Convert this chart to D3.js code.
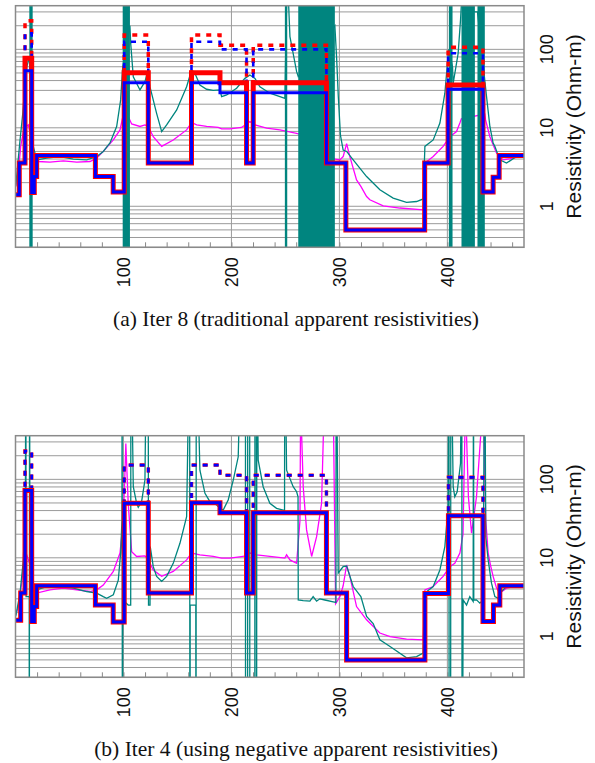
<!DOCTYPE html>
<html><head><meta charset="utf-8">
<script src="https://cdn.jsdelivr.net/npm/d3@7/dist/d3.min.js"></script>
<style>body{margin:0;background:#fff}svg{display:block}</style>
</head><body>
<script>
// ---------- data ----------
const xTickLabels = [100, 200, 300, 400];
const yTickLabels = [1, 10, 100];
const captions = ["(a) Iter 8 (traditional apparent resistivities)", "(b) Iter 4 (using negative apparent resistivities)"];
const yTitle = "Resistivity (Ohm-m)";

// Panel (a) step models [position, resistivity]
const redSolidA = [[0,1.4],[3.5,3.55],[8.8,77],[15,1.5],[17.4,2.4],[19.6,4.45],[74,2.4],[90.5,1.52],[100.7,50.4],[123,3.55],[163,50.4],[189.4,37.6],[214,3.55],[220.2,37.6],[288,3.55],[306,0.5],[379,3.55],[400.7,35],[433,1.52],[442.4,2.35],[448,4.45],[471,4.45]];
const blueSolidA = [[0,1.4],[3.5,3.55],[8.8,53.5],[15,1.5],[17.4,2.4],[19.6,4.45],[74,2.4],[90.5,1.52],[100.7,37.6],[123,3.55],[163,37.6],[189.4,28],[214,3.55],[220.2,28],[288,3.55],[306,0.5],[379,3.55],[400.7,31],[433,1.52],[442.4,2.35],[448,4.45],[471,4.45]];
const redDashedA = [[0,1.4],[3.5,3.55],[8.8,231],[15,1.5],[17.4,2.4],[19.6,4.45],[74,2.4],[90.5,1.52],[100.7,152],[123,3.55],[163,152],[189.4,113],[214,3.55],[220.2,113],[288,3.55],[306,0.5],[379,3.55],[400.7,106],[433,1.52],[442.4,2.35],[448,4.45],[471,4.45]];
const blueDashedA = [[0,1.4],[3.5,3.55],[8.8,160],[15,1.5],[17.4,2.4],[19.6,4.45],[74,2.4],[90.5,1.52],[100.7,125],[123,3.55],[163,125],[189.4,100],[214,3.55],[220.2,100],[288,3.55],[306,0.5],[379,3.55],[400.7,89],[433,1.52],[442.4,2.35],[448,4.45],[471,4.45]];
const magentaA = [[0.2,1.79],[2.6,2.64],[4.8,5.8],[7.3,8.95],[9.7,10.4],[11.9,10.9],[14,7.7],[16.5,4.3],[21.1,3.72],[31.9,3.65],[44.3,3.8],[56.7,3.65],[69,3.72],[75.2,4.1],[81.3,5.0],[90.6,7.0],[96.8,9.4],[99.8,14.6],[104.4,13.9],[107.6,11.2],[115.3,10.4],[119.9,10.9],[123,10.4],[127.6,7.7],[135.4,5.8],[146.1,7.0],[158.5,9.4],[163.1,11.7],[167.8,10.9],[177,10.4],[187.8,10.1],[190.9,9.7],[198.6,9.7],[209.4,10.1],[217.1,12],[221.8,10.9],[232.6,9.9],[244.9,9.4],[260.4,8.5],[262,8.4],[296,4.0],[300.5,3.9],[303.5,4.3],[306.7,6.3],[309.7,4.3],[315.9,2.17],[319.9,1.79],[325.2,1.33],[328.2,1.21],[340.6,1.01],[356,0.95],[377.6,0.9],[379.2,3.55],[386.9,4.3],[396.1,5.8],[402.3,7.7],[408.5,8.95],[411.6,11.5],[413,13],[434.7,15],[435.4,12.6],[439.4,7.7],[442.4,6.1],[445.6,4.75],[451.7,3.9],[460.9,4.1],[470.2,4.4]];
const tealA = [[0.2,1.79],[4.2,7.0],[6.6,14.6],[8.8,36.9],[10.5,60],[12.8,80],[15.9,8],[16.5,5.8],[19.6,3.9],[28.9,4.1],[41.2,4.3],[53.5,4.0],[65.9,3.9],[75.2,4.3],[81.3,5.0],[87.5,6.4],[93.7,10.4],[97.4,22.7],[99.3,60],[106,200],[106.7,119],[109.1,44.8],[115.3,30.4],[119.9,38.7],[122.4,51.9],[124.5,33.4],[130.7,15.3],[135.4,8.95],[140,10.9],[149.3,16.9],[158.5,33.4],[163.1,54.6],[166.2,49.5],[170.8,35.1],[177,31],[183.1,30],[189.4,30.4],[190.9,25],[195.6,26.2],[204.8,31.9],[212.5,42.7],[217.1,47.1],[221.8,42.7],[226.4,33.4],[235.6,27.6],[244.9,25],[249.5,23.8],[251.7,1000],[254.2,145],[260.4,51.9],[261.9,45],[295.8,200],[297.4,80],[299,25],[301,8],[303.5,5.2],[306.7,5.0],[312.8,3.9],[325.2,2.39],[337.5,1.62],[349.8,1.27],[362.2,1.12],[371.5,1.15],[377.6,1.24],[379.2,5.8],[386.9,7.0],[393.1,11.5],[397.7,27.6],[399.8,60],[401.4,100],[404.8,60],[405.4,36.9],[410,89],[412.2,236],[413.1,400],[425.5,300],[427.9,300],[434.7,40],[436.3,25],[439.4,10.4],[442.4,6.4],[444,5.8],[448.6,3.9],[454.8,3.55],[464.1,4.3],[470.2,4.5]];
const tealBandsA = [[12.8,15.9],[99.3,106],[249.5,251.7],[261.9,295.8],[401.4,404.8],[413.1,425.5],[427.9,434.7]];

// Panel (b)
const redSolidB = [[0,1.6],[4.8,3.55],[8.8,72],[15,1.54],[17.4,2.39],[19.6,4.4],[74,2.5],[90.5,1.52],[100.7,49.5],[123,3.55],[163,50.5],[189.4,37.5],[214,3.55],[220.2,37.5],[288,3.55],[306.7,0.5],[379.2,3.5],[401,34.4],[433,1.54],[442.7,2.5],[448.6,4.4],[471,4.4]];
const blueSolidB = [[0,1.6],[4.8,3.55],[8.8,72],[15,1.54],[17.4,2.39],[19.6,4.4],[74,2.5],[90.5,1.52],[100.7,49.5],[123,3.55],[163,50.5],[189.4,37.5],[214,3.55],[220.2,37.5],[288,3.55],[306.7,0.5],[379.2,3.5],[401,34.4],[433,1.54],[442.7,2.5],[448.6,4.4],[471,4.4]];
const redDashedB = [[0,1.6],[4.8,3.55],[8.8,230],[15,1.54],[17.4,2.39],[19.6,4.4],[74,2.5],[90.5,1.52],[100.7,152],[123,3.55],[163,152],[189.4,113],[214,3.55],[220.2,113],[288,3.55],[306.7,0.5],[379.2,3.5],[401,106],[433,1.54],[442.7,2.5],[448.6,4.4],[471,4.4]];
const blueDashedB = [[0,1.6],[4.8,3.55],[8.8,230],[15,1.54],[17.4,2.39],[19.6,4.4],[74,2.5],[90.5,1.52],[100.7,152],[123,3.55],[163,152],[189.4,113],[214,3.55],[220.2,113],[288,3.55],[306.7,0.5],[379.2,3.5],[401,106],[433,1.54],[442.7,2.5],[448.6,4.4],[471,4.4]];
const magentaB = [[0.2,1.87],[2.6,2.39],[5.7,4.75],[7.9,9.4],[10.4,10.9],[14,7.7],[16.5,4.75],[19.6,3.55],[31.9,3.9],[44.3,4.1],[56.7,3.9],[69,3.72],[75.2,3.9],[81.3,4.5],[90.6,6.7],[96.8,11.5],[99.8,30.4],[101.6,150],[102.2,287],[104.4,49.5],[107.6,12],[112.2,10.4],[119.9,10.6],[123,9.4],[127.6,7.0],[135.4,5.8],[146.1,6.7],[158.5,9.4],[163.1,11.5],[170.8,10.9],[183.1,10.4],[190.9,9.9],[198.6,9.9],[210.9,10.4],[217.1,11.5],[223.3,10.9],[235.6,10.4],[249.5,9.9],[251.1,10.9],[254.2,9.4],[260.4,8.5],[263.5,30],[264.1,1000],[266.5,80.6],[269.6,22.7],[274.3,10.4],[278.9,18.6],[283.5,49.5],[286,1000],[294.3,1000],[296.5,2.6],[300.5,3.2],[303.5,4.4],[306.7,8.1],[309.7,5.8],[315.9,2.39],[325.2,1.62],[337.5,1.1],[346.9,0.99],[362.2,0.92],[377.6,0.9],[379.2,3.9],[386.9,4.3],[396.1,5.8],[402.3,7.7],[406.9,8.5],[411.6,11.5],[414.5,20],[416.8,1000],[419.5,60],[422.4,20.6],[427,60],[433.1,1000],[435.6,30],[437.8,11.5],[440,8],[442.4,5.8],[445.6,4.1],[448.6,3.55],[454.8,4.1],[464.1,4.4],[470.2,4.45]];
const tealB = [[0.2,1.79],[4.2,3.55],[7.3,9.4],[9.2,80.6],[9.6,1e4],[9.8,3.2],[12.7,3.2],[12.8,1e-4],[13.0,1e4],[13.4,3.55],[16.5,3.55],[19.6,3.9],[28.9,4.3],[41.2,4.3],[53.5,4.1],[65.9,3.72],[75.2,3.55],[81.3,3.2],[84.4,3.05],[90.6,3.38],[95.2,5.2],[97.4,11.5],[98.6,30.4],[98.8,1e4],[99.0,1e-4],[99.3,2.9],[104.4,2.5],[106.7,2.5],[106.9,1e4],[109.1,80.6],[112.2,49.5],[113.7,44],[116.8,51.9],[119.9,98],[121.5,1e4],[122.9,1e4],[123.2,2.5],[124.6,2.5],[124.8,13.9],[127.6,7.7],[130.7,5.8],[135.4,5.0],[140,5.8],[146.1,8.5],[152.3,15.3],[158.5,33.4],[161.3,1e4],[161.6,1e-4],[161.8,2.5],[167,2.5],[167.2,1e-4],[167.4,1e4],[170.8,131],[175.5,66.4],[180.1,51.9],[186.3,47.1],[189.4,42.7],[192.4,40.6],[197,54.6],[201.7,98],[206.3,194],[209.4,1e4],[213.0,1e4],[213.1,1e-4],[214.9,1e-4],[215.1,1e4],[216.9,1e4],[217.1,1e-4],[221.6,1e-4],[221.8,1e4],[223.1,1e4],[223.3,1e-4],[223.5,1e4],[224.8,176],[229.4,80.6],[235.6,49.5],[241.8,42.7],[248,40.6],[249.2,40],[249.4,1e4],[251.1,131],[257.2,80.6],[260.4,69.5],[261.7,60],[261.9,2.9],[266.5,2.85],[272.7,2.8],[275.7,3.2],[278.9,2.8],[281.9,3.0],[286.6,2.9],[294.3,2.75],[296.8,2.7],[297.0,1e4],[297.2,1e4],[298.9,6.4],[303.5,7.7],[306.7,7.85],[312.8,4.3],[319.9,3.2],[325.2,1.79],[331.3,1.45],[337.5,0.9],[346.9,0.74],[362.2,0.53],[371.5,0.55],[377.6,0.61],[379.2,3.55],[386.9,4.3],[393.1,7.0],[397.7,13.9],[400.7,44.8],[401.5,1e4],[401.7,1e-4],[403.0,1e-4],[403.2,1e4],[405.4,80.6],[406.9,60],[409.1,69.5],[412.2,160],[413.4,1e4],[413.7,1e-4],[414.6,2.91],[417.8,2.5],[420.8,3.2],[423.9,2.78],[424.2,1e4],[424.5,2.9],[427,2.91],[430.1,2.64],[433.1,2.91],[434.6,1e4],[435.6,18.6],[437.8,9.4],[440.9,4.75],[444,3.2],[447.1,3.05],[450.1,3.72],[454.8,4.3],[464.1,4.5],[470.2,4.55]];
const tealBandsB = [];

const panels = [
  {off: 0, caption: captions[0], redSolid: redSolidA, blueSolid: blueSolidA, redDashed: redDashedA, blueDashed: blueDashedA, magenta: magentaA, teal: tealA, bands: tealBandsA},
  {off: 430, caption: captions[1], redSolid: redSolidB, blueSolid: blueSolidB, redDashed: redDashedB, blueDashed: blueDashedB, magenta: magentaB, teal: tealB, bands: tealBandsB}
];

// ---------- drawing ----------
const W = 595, H = 763;
const L = 15.5, R = 524, T = 5.7, B = 247.3;
const svg = d3.select("body").append("svg").attr("width", W).attr("height", H);
const x = d3.scaleLinear().domain([0, 471]).range([L, R]);
const y = d3.scaleLog().domain([0.3, 360]).range([B, T]);
const TEAL = "#00857f";

const gridVals = [];
[0.1, 1, 10, 100].forEach(d => { for (let k = 1; k <= 9; k++) { const v = k * d; if (v >= 0.3 && v <= 360) gridVals.push(v); } });

panels.forEach((p, i) => {
  const g = svg.append("g").attr("transform", `translate(0,${p.off})`);
  const clipId = "clip" + i;
  g.append("clipPath").attr("id", clipId).append("rect").attr("x", L).attr("y", T).attr("width", R - L).attr("height", B - T);

  // grid
  g.append("g").selectAll("line").data(gridVals).join("line")
    .attr("x1", L).attr("x2", R).attr("y1", d => y(d)).attr("y2", d => y(d))
    .attr("stroke", "#9a9a9a").attr("stroke-width", 1);
  g.append("g").selectAll("line").data(xTickLabels).join("line")
    .attr("x1", d => x(d)).attr("x2", d => x(d)).attr("y1", T).attr("y2", B)
    .attr("stroke", "#9a9a9a").attr("stroke-width", 1);
  // bottom axis minor ticks (inward)
  const xAxis = d3.axisBottom(x).tickValues(d3.range(20, 471, 20)).tickSize(-5).tickFormat("");
  const ax = g.append("g").attr("transform", `translate(0,${B})`).call(xAxis);
  ax.select(".domain").remove();
  ax.selectAll("line").attr("stroke", "#888");

  const plot = g.append("g").attr("clip-path", `url(#${clipId})`);
  const lin = d3.line().x(d => x(d[0])).y(d => y(d[1]));
  const step = d3.line().x(d => x(d[0])).y(d => y(d[1])).curve(d3.curveStepAfter);

  plot.append("path").datum(p.magenta).attr("d", lin).attr("fill", "none").attr("stroke", "#ff00ff").attr("stroke-width", 1.3);
  plot.append("path").datum(p.teal).attr("d", lin).attr("fill", "none").attr("stroke", TEAL).attr("stroke-width", 1.3);
  plot.append("g").selectAll("rect").data(p.bands).join("rect")
    .attr("x", d => x(d[0])).attr("width", d => x(d[1]) - x(d[0])).attr("y", T).attr("height", B - T).attr("fill", TEAL);

  plot.append("path").datum(p.redDashed).attr("d", step).attr("fill", "none").attr("stroke", "#ff0000").attr("stroke-width", 3.5).attr("stroke-dasharray", "5,6");
  plot.append("path").datum(p.blueDashed).attr("d", step).attr("fill", "none").attr("stroke", "#0000ff").attr("stroke-width", 2.6).attr("stroke-dasharray", "5,6");
  plot.append("path").datum(p.redSolid).attr("d", step).attr("fill", "none").attr("stroke", "#ff0000").attr("stroke-width", 5);
  plot.append("path").datum(p.blueSolid).attr("d", step).attr("fill", "none").attr("stroke", "#0000ff").attr("stroke-width", 3);

  // frame
  g.append("rect").attr("x", L).attr("y", T).attr("width", R - L).attr("height", B - T)
    .attr("fill", "none").attr("stroke", "#8a8a8a").attr("stroke-width", 1.5);

  // x labels
  g.append("g").selectAll("text").data(xTickLabels).join("text")
    .attr("transform", d => `translate(${x(d)},${B + 10}) rotate(-90)`)
    .attr("text-anchor", "end").attr("dy", "0.35em")
    .style("font-family", "'Liberation Sans', Arial, sans-serif").style("font-size", "18px").attr("fill", "#111")
    .text(d => d);
  // y labels
  g.append("g").selectAll("text").data(yTickLabels).join("text")
    .attr("transform", d => `translate(547,${y(d)}) rotate(-90)`)
    .attr("text-anchor", "middle").attr("dy", "0.35em")
    .style("font-family", "'Liberation Sans', Arial, sans-serif").style("font-size", "18px").attr("fill", "#111")
    .text(d => d);
  g.append("text").attr("transform", `translate(574,${(T + B) / 2}) rotate(-90)`)
    .attr("text-anchor", "middle").attr("dy", "0.35em")
    .style("font-family", "'Liberation Sans', Arial, sans-serif").style("font-size", "21px").attr("fill", "#111")
    .text(yTitle);
  // caption
  g.append("text").attr("x", 296).attr("y", 326).attr("text-anchor", "middle")
    .style("font-family", "'Liberation Serif', 'Times New Roman', serif").style("font-size", "21.5px").attr("fill", "#111")
    .text(p.caption);
});
</script>
</body></html>
